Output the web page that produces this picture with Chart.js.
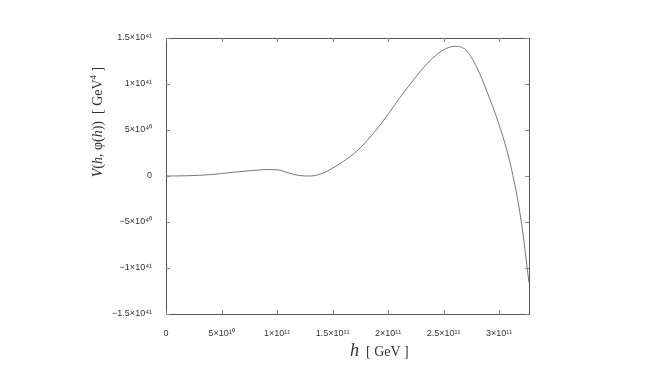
<!DOCTYPE html>
<html>
<head>
<meta charset="utf-8">
<script src="https://cdn.jsdelivr.net/npm/chart.js@4"></script>
<style>
  html, body { margin: 0; padding: 0; background: #fff; }
  #wrap { width: 667px; height: 375px; }
</style>
</head>
<body>
<div id="wrap"><canvas id="potChart" width="667" height="375"></canvas></div>
<script>
/* ================= DATA ================= */

// h [GeV]
const hValues = [
    0, 0.2e11, 0.4e11, 0.6e11, 0.8e11, 0.9e11, 1.0e11, 1.1e11, 1.2e11,
    1.3e11, 1.4e11, 1.5e11, 1.6e11, 1.7e11, 1.8e11, 1.9e11, 2.0e11,
    2.1e11, 2.2e11, 2.3e11, 2.4e11, 2.5e11, 2.6e11, 2.7e11, 2.8e11,
    2.9e11, 3.0e11, 3.1e11, 3.2e11, 3.27e11
];

// V(h, phi(h)) [GeV^4]
const vValues = [
    0, 0.03e40, 0.15e40, 0.40e40, 0.62e40, 0.70e40, 0.68e40, 0.35e40, 0.05e40,
    0, 0.25e40, 0.85e40, 1.6e40, 2.5e40, 3.7e40, 5.1e40, 6.7e40,
    8.4e40, 10.0e40, 11.5e40, 12.8e40, 13.7e40, 14.1e40, 13.7e40, 11.8e40,
    8.9e40, 5.6e40, 1.4e40, -4.9e40, -11.6e40
];

const xTickValues = [0, 5e10, 1e11, 1.5e11, 2e11, 2.5e11, 3e11];
const xTickLabels = ["0", "5×10¹⁰", "1×10¹¹", "1.5×10¹¹", "2×10¹¹", "2.5×10¹¹", "3×10¹¹"];

const yTickValues = [-1.5e41, -1e41, -5e40, 0, 5e40, 1e41, 1.5e41];
const yTickLabels = ["−1.5×10⁴¹", "−1×10⁴¹", "−5×10⁴⁰", "0", "5×10⁴⁰", "1×10⁴¹", "1.5×10⁴¹"];

/* ================= PLUGIN: frame, inner ticks, axis titles ================= */

const FRAME = "#555";
const TEXT = "#333";

function drawPieces(ctx, pieces, x, y) {
    let cx = x;
    pieces.forEach(p => {
        ctx.font = `${p.italic ? "italic " : ""}${p.size}px "Liberation Serif", serif`;
        ctx.fillText(p.t, cx, y - (p.sup ? 6 : 0));
        cx += ctx.measureText(p.t).width;
    });
    return cx - x;
}

function measurePieces(ctx, pieces) {
    let w = 0;
    pieces.forEach(p => {
        ctx.font = `${p.italic ? "italic " : ""}${p.size}px "Liberation Serif", serif`;
        w += ctx.measureText(p.t).width;
    });
    return w;
}

const framePlugin = {
    id: "frame",
    afterDraw(chart) {
        const { ctx, chartArea: a, scales } = chart;
        ctx.save();
        ctx.strokeStyle = FRAME;
        ctx.lineWidth = 1;
        ctx.strokeRect(a.left + 0.5, a.top + 0.5, a.right - a.left, a.bottom - a.top);

        // inner tick marks on all four sides
        ctx.strokeStyle = "#888";
        ctx.beginPath();
        scales.x.ticks.forEach(t => {
            const px = Math.round(scales.x.getPixelForValue(t.value)) + 0.5;
            ctx.moveTo(px, a.bottom);
            ctx.lineTo(px, a.bottom - 4);
            ctx.moveTo(px, a.top);
            ctx.lineTo(px, a.top + 4);
        });
        scales.y.ticks.forEach(t => {
            const py = Math.round(scales.y.getPixelForValue(t.value)) + 0.5;
            ctx.moveTo(a.left, py);
            ctx.lineTo(a.left + 4, py);
            ctx.moveTo(a.right, py);
            ctx.lineTo(a.right - 4, py);
        });
        ctx.stroke();

        // axis titles
        ctx.fillStyle = TEXT;
        ctx.textBaseline = "alphabetic";
        ctx.textAlign = "left";

        const xTitle = [
            { t: "h", italic: true, size: 18 },
            { t: "  [ GeV ]", size: 14 },
        ];
        drawPieces(ctx, xTitle, 350, 356);

        const yTitle = [
            { t: "V", italic: true, size: 14 },
            { t: "(", size: 14 },
            { t: "h", italic: true, size: 14 },
            { t: ", φ(", size: 14 },
            { t: "h", italic: true, size: 14 },
            { t: "))  [ GeV", size: 14 },
            { t: "4", size: 9, sup: true },
            { t: " ]", size: 14 },
        ];
        const yw = measurePieces(ctx, yTitle);
        ctx.translate(102, 122);
        ctx.rotate(-Math.PI / 2);
        drawPieces(ctx, yTitle, -yw / 2, 0);
        ctx.restore();
    }
};

/* ================= CHART ================= */

const points = hValues.map((h, i) => ({ x: h, y: vValues[i] }));

new Chart(document.getElementById("potChart"), {
    type: "scatter",
    data: {
        datasets: [{
            data: points,
            showLine: true,
            borderColor: "#777",
            borderWidth: 1,
            pointRadius: 0,
            cubicInterpolationMode: "monotone",
        }]
    },
    options: {
        responsive: false,
        animation: false,
        layout: { padding: { left: 0, top: 38, right: 138, bottom: 0 } },
        plugins: {
            legend: { display: false },
            tooltip: { enabled: false },
        },
        scales: {
            x: {
                type: "linear",
                min: 0,
                max: 3.27e11,
                afterBuildTicks: s => { s.ticks = xTickValues.map(v => ({ value: v })); },
                afterFit: s => { s.height = 61; },
                grid: { display: false },
                border: { display: false },
                ticks: {
                    padding: 6,
                    color: TEXT,
                    font: { family: "'Liberation Sans', Arial, sans-serif", size: 9 },
                    maxRotation: 0,
                    callback: v => xTickLabels[xTickValues.indexOf(v)] ?? "",
                },
            },
            y: {
                type: "linear",
                min: -1.5e41,
                max: 1.5e41,
                afterBuildTicks: s => { s.ticks = yTickValues.map(v => ({ value: v })); },
                afterFit: s => { s.width = 166; },
                grid: { display: false },
                border: { display: false },
                ticks: {
                    padding: 6,
                    color: TEXT,
                    font: { family: "'Liberation Sans', Arial, sans-serif", size: 9 },
                    callback: v => yTickLabels[yTickValues.indexOf(v)] ?? "",
                },
            },
        },
    },
    plugins: [framePlugin],
});
</script>
</body>
</html>
